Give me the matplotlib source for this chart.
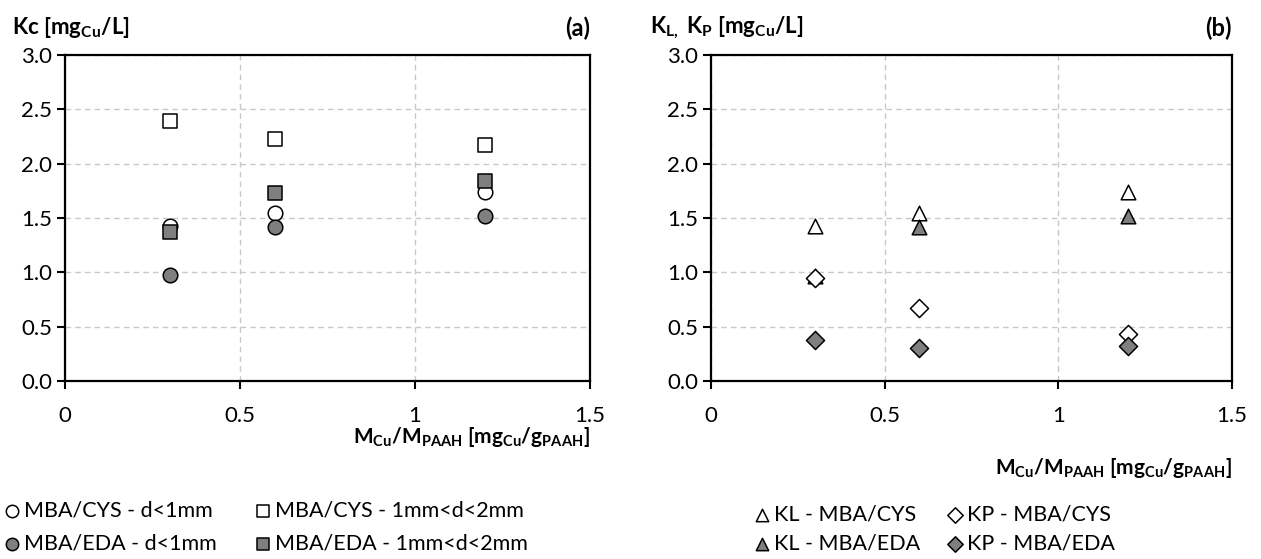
import matplotlib
matplotlib.use("Agg")
import matplotlib.pyplot as plt

plt.rcParams["font.family"] = ["Lato", "DejaVu Sans"]
plt.rcParams["mathtext.default"] = "regular"

# ---------------------------------------------------------------------------
# Data
# ---------------------------------------------------------------------------
ratio = [0.3, 0.6, 1.2]

# panel (a): Kc
kc_cys_small = [1.43, 1.55, 1.74]
kc_cys_large = [2.39, 2.23, 2.17]
kc_eda_small = [0.98, 1.42, 1.52]
kc_eda_large = [1.37, 1.73, 1.84]

# panel (b): KL, KP
kl_cys = [1.43, 1.55, 1.74]
kl_eda = [0.97, 1.42, 1.52]
kp_cys = [0.95, 0.67, 0.43]
kp_eda = [0.38, 0.30, 0.32]

x_ticks = [0, 0.5, 1, 1.5]
x_tick_labels = ["0", "0.5", "1", "1.5"]
y_ticks = [0.0, 0.5, 1.0, 1.5, 2.0, 2.5, 3.0]

legend_a = ["MBA/CYS - d<1mm", "MBA/EDA - d<1mm",
            "MBA/CYS - 1mm<d<2mm", "MBA/EDA - 1mm<d<2mm"]
legend_b = ["KL - MBA/CYS", "KL - MBA/EDA", "KP - MBA/CYS", "KP - MBA/EDA"]

GREY = "#7f7f7f"
W, H = 1261, 559
LEG_FS = 15.5

fig = plt.figure(figsize=(W / 100, H / 100), dpi=100)


def make_axes(x0, x1, y0, y1):
    ax = fig.add_axes([x0 / W, 1 - y1 / H, (x1 - x0) / W, (y1 - y0) / H])
    ax.set_xlim(0, 1.5)
    ax.set_ylim(0, 3.0)
    ax.set_xticks(x_ticks)
    ax.set_xticklabels(x_tick_labels)
    ax.set_yticks(y_ticks)
    ax.set_yticklabels([f"{v:.1f}" for v in y_ticks])
    ax.tick_params(axis="both", direction="out", length=6, width=1.5,
                   labelsize=16, colors="black")
    ax.tick_params(axis="x", pad=12)
    ax.tick_params(axis="y", pad=3)
    ax.grid(True, linestyle=(0, (4, 3)), color="#c8c8c8", linewidth=1)
    ax.set_axisbelow(True)
    for s in ax.spines.values():
        s.set_linewidth(1.6)
        s.set_color("black")
    return ax


def legend_column(handles, labels, x_marker, y_mid, spacing):
    # one legend per column so each column sits where the reference has it
    hl = 0.8
    x0 = x_marker - hl * LEG_FS * 100 / 72 / 2
    fig.legend(handles, labels, loc="center left",
               bbox_to_anchor=(x0 / W, 1 - y_mid / H),
               frameon=False, fontsize=LEG_FS, handlelength=hl,
               handletextpad=0.15, labelspacing=spacing,
               borderaxespad=0, borderpad=0, markerscale=0.85)


mk = dict(s=110, edgecolors="black", linewidths=1.1, zorder=3)

# ---------------------------------------------------------------------------
# (a)
# ---------------------------------------------------------------------------
ax1 = make_axes(65, 590, 55, 381)
h1 = ax1.scatter(ratio, kc_cys_small, marker="o", facecolors="white", **mk)
h3 = ax1.scatter(ratio, kc_cys_large, marker="s", facecolors="white", **mk)
h2 = ax1.scatter(ratio, kc_eda_small, marker="o", facecolors=GREY, **mk)
h4 = ax1.scatter(ratio, kc_eda_large, marker="s", facecolors=GREY, **mk)

fig.text(12 / W, 1 - 28 / H, r"Kc [mg$_{Cu}$/L]", fontsize=16,
         fontweight="bold", va="center", ha="left")
fig.text(590 / W, 1 - 28 / H, "(a)", fontsize=17, fontweight="bold",
         va="center", ha="right")
fig.text(590 / W, 1 - 437 / H, r"M$_{Cu}$/M$_{PAAH}$ [mg$_{Cu}$/g$_{PAAH}$]",
         fontsize=15, fontweight="bold", va="center", ha="right")

legend_column([h1, h2], legend_a[:2], 12, 527, 0.62)
legend_column([h3, h4], legend_a[2:], 263, 527, 0.62)

# ---------------------------------------------------------------------------
# (b)
# ---------------------------------------------------------------------------
ax2 = make_axes(711, 1232, 55, 381)
g1 = ax2.scatter(ratio, kl_cys, marker="^", facecolors="white", **mk)
g2 = ax2.scatter(ratio, kl_eda, marker="^", facecolors=GREY, **mk)
g3 = ax2.scatter(ratio, kp_cys, marker="D", facecolors="white", s=85,
                 edgecolors="black", linewidths=1.1, zorder=3)
g4 = ax2.scatter(ratio, kp_eda, marker="D", facecolors=GREY, s=85,
                 edgecolors="black", linewidths=1.1, zorder=3)

fig.text(650 / W, 1 - 28 / H, r"K$_{L,}$ K$_{P}$ [mg$_{Cu}$/L]", fontsize=16,
         fontweight="bold", va="center", ha="left")
fig.text(1232 / W, 1 - 28 / H, "(b)", fontsize=17, fontweight="bold",
         va="center", ha="right")
fig.text(1232 / W, 1 - 468 / H, r"M$_{Cu}$/M$_{PAAH}$ [mg$_{Cu}$/g$_{PAAH}$]",
         fontsize=15, fontweight="bold", va="center", ha="right")

legend_column([g1, g2], legend_b[:2], 762, 529, 0.4)
legend_column([g3, g4], legend_b[2:], 955, 529, 0.4)

fig.savefig("out.png", dpi=100)
